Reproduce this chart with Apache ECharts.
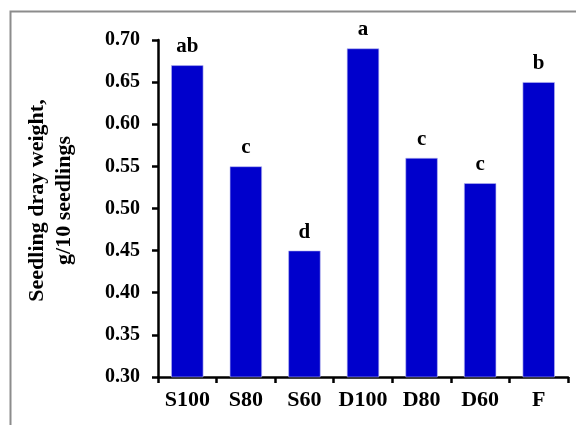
<!DOCTYPE html>
<html>
<head>
<meta charset="utf-8">
<style>
  html, body { margin: 0; padding: 0; background: #ffffff; }
  #chart { width: 576px; height: 425px; }
</style>
<script src="https://cdn.jsdelivr.net/npm/echarts@6/dist/echarts.min.js"></script>
</head>
<body>
<div id="chart"></div>
<script>
// Treatments and mean seedling dry weight (g per 10 seedlings)
const categories = ['S100', 'S80', 'S60', 'D100', 'D80', 'D60', 'F'];
const weights = [0.67, 0.55, 0.45, 0.69, 0.56, 0.53, 0.65];
// Significance letters shown above each bar
const letters = ['ab', 'c', 'd', 'a', 'c', 'c', 'b'];
const yTicks = [0.30, 0.35, 0.40, 0.45, 0.50, 0.55, 0.60, 0.65, 0.70];

const serif = '"Liberation Serif", "Times New Roman", serif';
const chart = echarts.init(document.getElementById('chart'), null, { renderer: 'canvas' });

chart.setOption({
  animation: false,
  backgroundColor: '#ffffff',
  graphic: [{
    type: 'rect',
    shape: { x: 10.5, y: 11.5, width: 600, height: 450 },
    style: { fill: 'none', stroke: '#8c8c8c', lineWidth: 2 },
    silent: true
  }],
  grid: { left: 158, right: 8, top: 40, bottom: 48, containLabel: false, outerBoundsMode: 'none' },
  xAxis: {
    type: 'category',
    data: categories,
    axisLine: { lineStyle: { color: '#000', width: 2.5 } },
    axisTick: { show: true, interval: 0, alignWithLabel: false, length: 6, lineStyle: { color: '#000', width: 2.5 } },
    axisLabel: { interval: 0, hideOverlap: false, color: '#000', fontFamily: serif, fontWeight: 'bold', fontSize: 22, margin: 12 }
  },
  yAxis: {
    type: 'value',
    min: 0.30,
    max: 0.70,
    interval: 0.05,
    name: 'Seedling dray weight,\ng/10 seedlings',
    nameLocation: 'middle',
    nameGap: 80,
    nameRotate: 90,
    nameTextStyle: { color: '#000', fontFamily: serif, fontWeight: 'bold', fontSize: 22, lineHeight: 27, padding: [0, 0, 0, 16] },
    splitLine: { show: false },
    axisLine: { show: true, lineStyle: { color: '#000', width: 2.5 } },
    axisTick: { show: true, length: 6, lineStyle: { color: '#000', width: 2.5 } },
    axisLabel: {
      color: '#000', fontFamily: serif, fontWeight: 'bold', fontSize: 20, margin: 18,
      formatter: v => {
        const hit = yTicks.find(t => Math.abs(t - v) < 1e-9);
        return hit !== undefined ? hit.toFixed(2) : '';
      }
    }
  },
  series: [{
    type: 'bar',
    data: weights,
    barWidth: '55%',
    itemStyle: { color: '#0000cc', borderColor: '#b8b8f0', borderWidth: 0.6 },
    label: {
      show: true,
      position: 'top',
      distance: 8,
      color: '#000',
      fontFamily: serif,
      fontWeight: 'bold',
      fontSize: 21,
      formatter: p => letters[p.dataIndex]
    }
  }]
});
</script>
</body>
</html>
